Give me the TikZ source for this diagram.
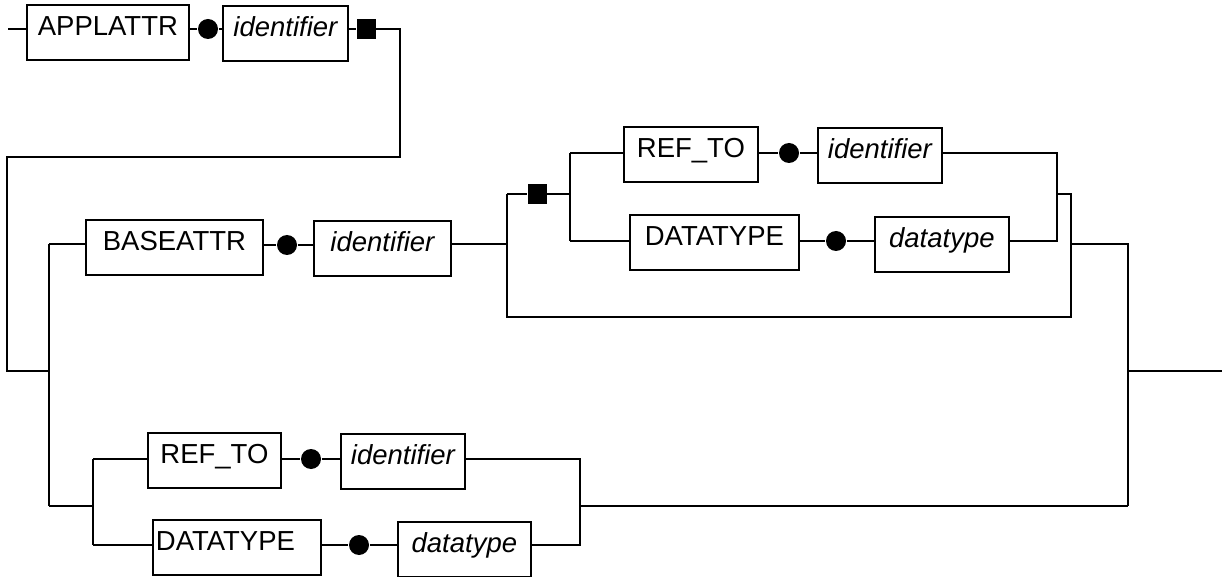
\documentclass[tikz,border=0pt]{standalone}
\usepackage{fontspec}
\setmainfont{Liberation Sans}
\begin{document}
\begin{tikzpicture}[x=1pt,y=-1pt,line width=1.8pt,
  box/.style={draw,inner xsep=0pt,inner ysep=0pt,text height=30pt,text depth=25pt,anchor=south west,font=\fontsize{27.5}{30}\selectfont},
  dot/.style={circle,fill,inner sep=0pt,minimum size=20pt},
  sqr/.style={rectangle,fill,inner sep=0pt,minimum width=19pt,minimum height=20pt},
  wire/.style={draw,line width=1.8pt,line join=miter}]
\useasboundingbox (0,0) rectangle (1226,577);

% boxes
\node[box,minimum width=162pt] (app) at (26,61) {APPLATTR};
\node[box,minimum width=125pt] (id1) at (222,62) {\itshape identifier};
\node[box,minimum width=177pt] (base) at (85,276) {BASEATTR};
\node[box,minimum width=137pt] (id2) at (313,277) {\itshape identifier};
\node[box,minimum width=134pt] (ref1) at (623,183) {REF\_TO};
\node[box,minimum width=124pt] (id3) at (817,184) {\itshape identifier};
\node[box,minimum width=169pt] (dtp1) at (629,271) {DATATYPE};
\node[box,minimum width=134pt] (dt1) at (874,273) {\itshape datatype};
\node[box,minimum width=133pt] (ref2) at (147,489) {REF\_TO};
\node[box,minimum width=124pt] (id4) at (340,490) {\itshape identifier};
\node[box,minimum width=168pt] (dtp2) at (152,576) {\makebox[168pt][l]{\hspace{3pt}DATATYPE}};
\node[box,minimum width=133pt] (dt2) at (397,578) {\itshape datatype};

% dots and squares
\node[dot] (d1) at (208,29) {};
\node[dot] (d2) at (287,245) {};
\node[dot] (d3) at (789,153) {};
\node[dot] (d4) at (836,241) {};
\node[dot] (d5) at (311,459) {};
\node[dot] (d6) at (359,545) {};
\node[sqr] (sq1) at (366,29) {};
\node[sqr] (sq2) at (537,194) {};

% junction coordinates
\coordinate (s) at (8,29);
\coordinate (c1) at (400,29);
\coordinate (c2) at (400,157);
\coordinate (c3) at (7,157);
\coordinate (c4) at (7,371);
\coordinate (c5) at (49,371);
\coordinate (c6) at (49,244);
\coordinate (c7) at (49,506);
\coordinate (c8) at (507,244);
\coordinate (c9) at (507,194);
\coordinate (c10) at (507,317);
\coordinate (c11) at (1071,317);
\coordinate (c12) at (1071,194);
\coordinate (c13) at (1057,194);
\coordinate (c14) at (570,194);
\coordinate (c15) at (570,153);
\coordinate (c16) at (570,241);
\coordinate (c17) at (1057,153);
\coordinate (c18) at (1057,241);
\coordinate (c19) at (1071,244);
\coordinate (c20) at (1128,244);
\coordinate (c21) at (1128,506);
\coordinate (c22) at (1128,371);
\coordinate (c23) at (1222,371);
\coordinate (c24) at (93,506);
\coordinate (c25) at (93,459);
\coordinate (c26) at (93,545);
\coordinate (c27) at (580,459);
\coordinate (c28) at (580,545);
\coordinate (c29) at (580,506);

% row 1
\path[wire] (s) -- (app.west |- s);
\path[wire] (app.east |- d1) -- (d1) -- (id1.west |- d1);
\path[wire] (id1.east |- sq1) -- (sq1);
\path[wire] (sq1) -- (c1) -- (c2) -- (c3) -- (c4) -- (c5);

% bus
\path[wire] (c6) -- (c7);

% BASEATTR branch
\path[wire] (c6) -- (base.west |- c6);
\path[wire] (base.east |- d2) -- (d2) -- (id2.west |- d2);
\path[wire] (id2.east |- c8) -- (c8);
\path[wire] (c9) -- (c10) -- (c11) -- (c12) -- (c13);
\path[wire] (c9) -- (sq2) -- (c14);
\path[wire] (c15) -- (c16);
\path[wire] (c15) -- (ref1.west |- c15);
\path[wire] (ref1.east |- d3) -- (d3) -- (id3.west |- d3);
\path[wire] (id3.east |- c17) -- (c17) -- (c18) -- (dt1.east |- c18);
\path[wire] (c16) -- (dtp1.west |- c16);
\path[wire] (dtp1.east |- d4) -- (d4) -- (dt1.west |- d4);
\path[wire] (c19) -- (c20) -- (c21);
\path[wire] (c22) -- (c23);

% lower branch
\path[wire] (c7) -- (c24);
\path[wire] (c25) -- (c26);
\path[wire] (c25) -- (ref2.west |- c25);
\path[wire] (ref2.east |- d5) -- (d5) -- (id4.west |- d5);
\path[wire] (id4.east |- c27) -- (c27) -- (c28) -- (dt2.east |- c28);
\path[wire] (c26) -- (dtp2.west |- c26);
\path[wire] (dtp2.east |- d6) -- (d6) -- (dt2.west |- d6);
\path[wire] (c29) -- (c21);
\end{tikzpicture}
\end{document}
